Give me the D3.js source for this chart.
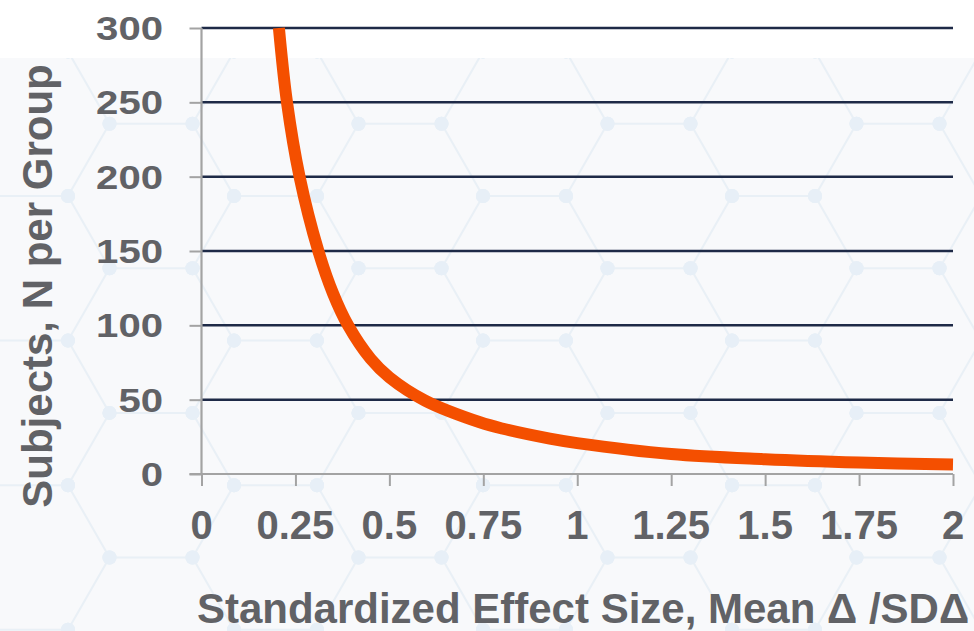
<!DOCTYPE html>
<html>
<head>
<meta charset="utf-8">
<script src="https://cdn.jsdelivr.net/npm/d3@7"></script>
<style>
  html, body { margin: 0; padding: 0; background: #ffffff; }
  svg { display: block; }
  text { font-family: "Liberation Sans", Arial, sans-serif; font-weight: bold; fill: #616266; }
</style>
</head>
<body>
<svg id="chart" width="974" height="631"></svg>
<script>
// Required sample size per group as a function of standardized effect size
const effectSize = [0.206, 0.2275, 0.261, 0.311, 0.35, 0.39, 0.45, 0.5, 0.595, 0.741, 0.8, 0.927, 1.0, 1.25, 1.5, 1.75, 2.0];
const subjectsPerGroup = [300, 250, 200, 150, 121.5, 100, 77.5, 65, 49.4, 34.8, 30.6, 23.8, 20.8, 13.4, 9.9, 7.7, 6.4];

const xTickValues = [0, 0.25, 0.5, 0.75, 1, 1.25, 1.5, 1.75, 2];
const xTickLabels = ["0", "0.25", "0.5", "0.75", "1", "1.25", "1.5", "1.75", "2"];
const yTickValues = [0, 50, 100, 150, 200, 250, 300];
const yTickLabels = ["0", "50", "100", "150", "200", "250", "300"];

const xTitle = "Standardized Effect Size, Mean \u0394 /SD\u0394";
const yTitle = "Subjects, N per Group";

const W = 974, H = 631;
const svg = d3.select("#chart");

const x = d3.scaleLinear().domain([0, 2]).range([201.5, 953]);
const y = d3.scaleLinear().domain([0, 300]).range([474, 28]);

// ---- soft background with a faint hexagon network ----
svg.append("rect").attr("width", W).attr("height", H).attr("fill", "#ffffff");
svg.append("rect").attr("x", 0).attr("y", 58).attr("width", W).attr("height", H - 58).attr("fill", "#f8f9fb");

const defs = svg.append("defs");
defs.append("clipPath").attr("id", "bgClip")
  .append("rect").attr("x", 0).attr("y", 58).attr("width", W).attr("height", H - 58);

const s = 83, hh = 72.3;
const centers = [];
for (let m = -2; m <= 5; m++) {
  for (let n = -2; n <= 5; n++) {
    centers.push([151 + 249 * m, 196 + 2 * hh * n]);
    centers.push([151 + 124.5 + 249 * m, 196 + hh + 2 * hh * n]);
  }
}
const verts = [];
let hexPath = "";
centers.forEach(([cx, cy]) => {
  const pts = [
    [cx - s / 2, cy - hh], [cx + s / 2, cy - hh], [cx + s, cy],
    [cx + s / 2, cy + hh], [cx - s / 2, cy + hh], [cx - s, cy]
  ];
  hexPath += "M" + pts.map(p => p.join(",")).join("L") + "Z";
  pts.forEach(p => verts.push(p));
});
const bg = svg.append("g").attr("clip-path", "url(#bgClip)").attr("opacity", 0.3);
bg.append("path").attr("d", hexPath).attr("fill", "none")
  .attr("stroke", "#c9dceb").attr("stroke-width", 2);
bg.selectAll("circle.node").data(verts).join("circle")
  .attr("class", "node")
  .attr("cx", d => d[0]).attr("cy", d => d[1]).attr("r", 7)
  .attr("fill", "#c3dbee");

// ---- gridlines ----
svg.append("g").selectAll("line.grid")
  .data(yTickValues.filter(v => v > 0))
  .join("line")
  .attr("class", "grid")
  .attr("x1", x(0)).attr("x2", x(2))
  .attr("y1", d => y(d)).attr("y2", d => y(d))
  .attr("stroke", "#1e2a47").attr("stroke-width", 2.5);

// ---- axes ----
const axisColor = "#a3a3a3";
const yAxis = svg.append("g").attr("transform", `translate(${x(0)},0)`)
  .call(d3.axisLeft(y).tickValues(yTickValues).tickSize(12).tickFormat(""));
yAxis.select(".domain").attr("stroke", axisColor).attr("stroke-width", 2.2)
  .attr("d", `M0,${y(300)}V${y(0)}`);
yAxis.selectAll(".tick line").attr("stroke", axisColor).attr("stroke-width", 2);

const xAxis = svg.append("g").attr("transform", `translate(0,${y(0)})`)
  .call(d3.axisBottom(x).tickValues(xTickValues).tickSize(12).tickFormat(""));
xAxis.select(".domain").attr("stroke", axisColor).attr("stroke-width", 2.2)
  .attr("d", `M${x(0) - 12},0H${x(2)}`);
xAxis.selectAll(".tick line").attr("stroke", axisColor).attr("stroke-width", 2);

// tick labels
svg.append("g").selectAll("text.ylab")
  .data(yTickValues)
  .join("text")
  .attr("class", "ylab")
  .attr("transform", d => `translate(163,${y(d) + 12}) scale(1.18,1)`)
  .attr("text-anchor", "end")
  .attr("font-size", 34)
  .text((d, i) => yTickLabels[i]);

svg.append("g").selectAll("text.xlab")
  .data(xTickValues)
  .join("text")
  .attr("class", "xlab")
  .attr("x", d => x(d)).attr("y", 539)
  .attr("text-anchor", "middle")
  .attr("font-size", 40)
  .text((d, i) => xTickLabels[i]);

// axis titles
svg.append("text")
  .attr("transform", "translate(52,286) rotate(-90)")
  .attr("text-anchor", "middle")
  .attr("font-size", 42)
  .text(yTitle);

svg.append("text")
  .attr("x", 583).attr("y", 623)
  .attr("text-anchor", "middle")
  .attr("font-size", 42)
  .text(xTitle);

// ---- curve ----
const data = effectSize.map((d, i) => ({ d, n: subjectsPerGroup[i] }));
const line = d3.line()
  .x(p => x(p.d))
  .y(p => y(p.n))
  .curve(d3.curveCatmullRom.alpha(0.5));

svg.append("path")
  .datum(data)
  .attr("d", line)
  .attr("fill", "none")
  .attr("stroke", "#f44f00")
  .attr("stroke-width", 12);
</script>
</body>
</html>
